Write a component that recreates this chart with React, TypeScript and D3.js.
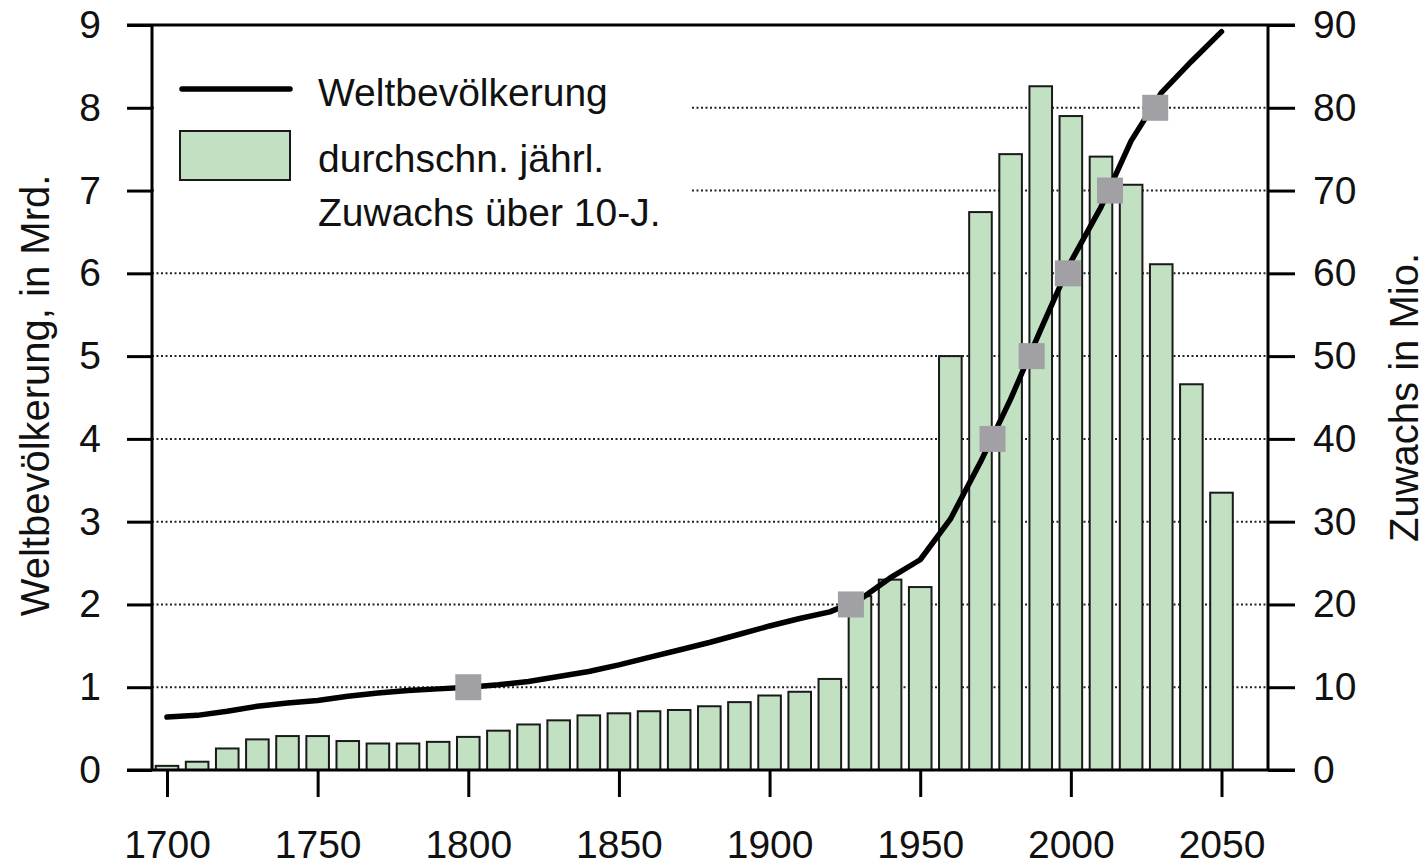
import * as d3 from "d3";
import { useEffect, useRef } from "react";

// decades 1700..2050
const years = [
  1700, 1710, 1720, 1730, 1740, 1750, 1760, 1770, 1780, 1790,
  1800, 1810, 1820, 1830, 1840, 1850, 1860, 1870, 1880, 1890,
  1900, 1910, 1920, 1930, 1940, 1950, 1960, 1970, 1980, 1990,
  2000, 2010, 2020, 2030, 2040, 2050,
];

// Weltbevölkerung in Mrd.
const population = [
  0.64, 0.66, 0.71, 0.77, 0.81, 0.84, 0.89, 0.93, 0.96, 0.98,
  1.0, 1.03, 1.07, 1.13, 1.19, 1.27, 1.36, 1.45, 1.54, 1.64,
  1.74, 1.83, 1.91, 2.06, 2.32, 2.54, 3.03, 3.72, 4.48, 5.32,
  6.14, 6.8, 7.6, 8.18, 8.56, 8.92,
];

// durchschn. jährl. Zuwachs über 10 Jahre, in Mio.
const growth = [
  0.5, 1.0, 2.6, 3.7, 4.1, 4.1, 3.5, 3.2, 3.2, 3.4,
  4.0, 4.75, 5.5, 6.0, 6.6, 6.85, 7.1, 7.25, 7.7, 8.2,
  9.0, 9.45, 11.0, 21.0, 23.0, 22.1, 50.0, 67.4, 74.4, 82.6,
  79.0, 74.1, 70.7, 61.1, 46.6, 33.5,
];

// Meilensteine (Jahr, Mrd.)
const milestoneYears = [1800, 1927, 1974, 1987, 1999, 2013, 2028];
const milestoneValues = [1, 2, 4, 5, 6, 7, 8];

const xTicks = [1700, 1750, 1800, 1850, 1900, 1950, 2000, 2050];
const leftTicks = [0, 1, 2, 3, 4, 5, 6, 7, 8, 9];
const rightTicks = [0, 10, 20, 30, 40, 50, 60, 70, 80, 90];
const gridValues = [1, 2, 3, 4, 5, 6, 7, 8];

const W = 1428, H = 865;
const FONT = "'Liberation Sans', Arial, sans-serif";

const App = () => {
  const ref: any = useRef();

  useEffect(() => {
    const svg = d3.select(ref.current);
    svg.selectAll("*").remove();

    const left = 152, right = 1268, top = 25, bottom = 770;
    const x = d3.scaleLinear().domain([1700, 2050]).range([167, 1221.5]);
    const yL = d3.scaleLinear().domain([0, 9]).range([bottom, top]);
    const yR = d3.scaleLinear().domain([0, 90]).range([bottom, top]);

    // dotted grid lines
    svg.append("g")
      .selectAll("line")
      .data(gridValues)
      .join("line")
        .attr("x1", left)
        .attr("x2", right)
        .attr("y1", d => yL(d))
        .attr("y2", d => yL(d))
        .attr("stroke", "#222")
        .attr("stroke-width", 2)
        .attr("stroke-dasharray", "2,2.5");

    // legend background hides grid lines behind legend
    svg.append("rect")
      .attr("x", left + 2).attr("y", top + 4)
      .attr("width", 688 - left).attr("height", 215)
      .attr("fill", "#fff");

    // bars
    const bw = (x(1710) - x(1700)) * 0.75;
    svg.append("g")
      .selectAll("rect")
      .data(years)
      .join("rect")
        .attr("x", (d: number) => x(d) - bw / 2)
        .attr("y", (_d: number, i: number) => yR(growth[i]))
        .attr("width", bw)
        .attr("height", (_d: number, i: number) => bottom - yR(growth[i]))
        .attr("fill", "#c2e0c2")
        .attr("stroke", "#1a1a1a")
        .attr("stroke-width", 2);

    // population line
    const line = d3.line<number>()
      .x(d => x(d))
      .y((_d, i) => yL(population[i]));
    svg.append("path")
      .datum(years)
      .attr("d", line)
      .attr("fill", "none")
      .attr("stroke", "#000")
      .attr("stroke-width", 5.5)
      .attr("stroke-linecap", "round")
      .attr("stroke-linejoin", "round");

    // milestone markers
    const ms = 26;
    svg.append("g")
      .selectAll("rect")
      .data(milestoneYears)
      .join("rect")
        .attr("x", (d: number) => x(d) - ms / 2)
        .attr("y", (_d: number, i: number) => yL(milestoneValues[i]) - ms / 2)
        .attr("width", ms)
        .attr("height", ms)
        .attr("fill", "#a0a0a5");

    // axes
    const styleAxis = (g: any) => {
      g.select(".domain").remove();
      g.selectAll(".tick line").attr("stroke", "#000").attr("stroke-width", 3);
      g.selectAll(".tick text")
        .attr("fill", "#111")
        .style("font-family", FONT)
        .style("font-size", "39px");
    };

    svg.append("g")
      .attr("transform", `translate(${left},0)`)
      .call(d3.axisLeft(yL).tickValues(leftTicks).tickSize(25).tickPadding(26).tickFormat(d3.format("d")))
      .call(styleAxis);

    svg.append("g")
      .attr("transform", `translate(${right},0)`)
      .call(d3.axisRight(yR).tickValues(rightTicks).tickSize(27).tickPadding(18).tickFormat(d3.format("d")))
      .call(styleAxis);

    svg.append("g")
      .attr("transform", `translate(0,${bottom})`)
      .call(d3.axisBottom(x).tickValues(xTicks).tickSize(27).tickPadding(33).tickFormat(d3.format("d")))
      .call(styleAxis);

    // frame lines
    const frame = svg.append("g").attr("stroke", "#000").attr("stroke-width", 3);
    frame.append("line").attr("x1", 127).attr("x2", 1295).attr("y1", top).attr("y2", top);
    frame.append("line").attr("x1", 127).attr("x2", 1295).attr("y1", bottom).attr("y2", bottom);
    frame.append("line").attr("x1", left).attr("x2", left).attr("y1", top).attr("y2", bottom);
    frame.append("line").attr("x1", right).attr("x2", right).attr("y1", top).attr("y2", bottom);

    // legend
    const lg = svg.append("g").style("font-family", FONT).style("font-size", "39px").attr("fill", "#111");
    lg.append("line")
      .attr("x1", 182).attr("x2", 290).attr("y1", 89).attr("y2", 89)
      .attr("stroke", "#000").attr("stroke-width", 5.5).attr("stroke-linecap", "round");
    lg.append("rect")
      .attr("x", 180).attr("y", 131).attr("width", 110).attr("height", 49)
      .attr("fill", "#c2e0c2").attr("stroke", "#1a1a1a").attr("stroke-width", 2);
    lg.append("text").attr("x", 318).attr("y", 92).attr("dy", "0.35em").text("Weltbevölkerung");
    lg.append("text").attr("x", 318).attr("y", 158).attr("dy", "0.35em").text("durchschn. jährl.");
    lg.append("text").attr("x", 318).attr("y", 212).attr("dy", "0.35em").text("Zuwachs über 10-J.");

    // axis titles
    svg.append("text")
      .attr("transform", `translate(35,${(top + bottom) / 2 - 2}) rotate(-90)`)
      .attr("text-anchor", "middle")
      .attr("dy", "0.35em")
      .style("font-family", FONT)
      .style("font-size", "40px")
      .attr("fill", "#111")
      .text("Weltbevölkerung, in Mrd.");

    svg.append("text")
      .attr("transform", `translate(1404,${(top + bottom) / 2}) rotate(-90)`)
      .attr("text-anchor", "middle")
      .attr("dy", "0.35em")
      .style("font-family", FONT)
      .style("font-size", "40px")
      .attr("fill", "#111")
      .text("Zuwachs in Mio.");
  }, []);

  return (
    <svg
      ref={ref}
      width={W}
      height={H}
      style={{ position: "absolute", left: 0, top: 0, background: "#fff" }}
    />
  );
};

export default App;
